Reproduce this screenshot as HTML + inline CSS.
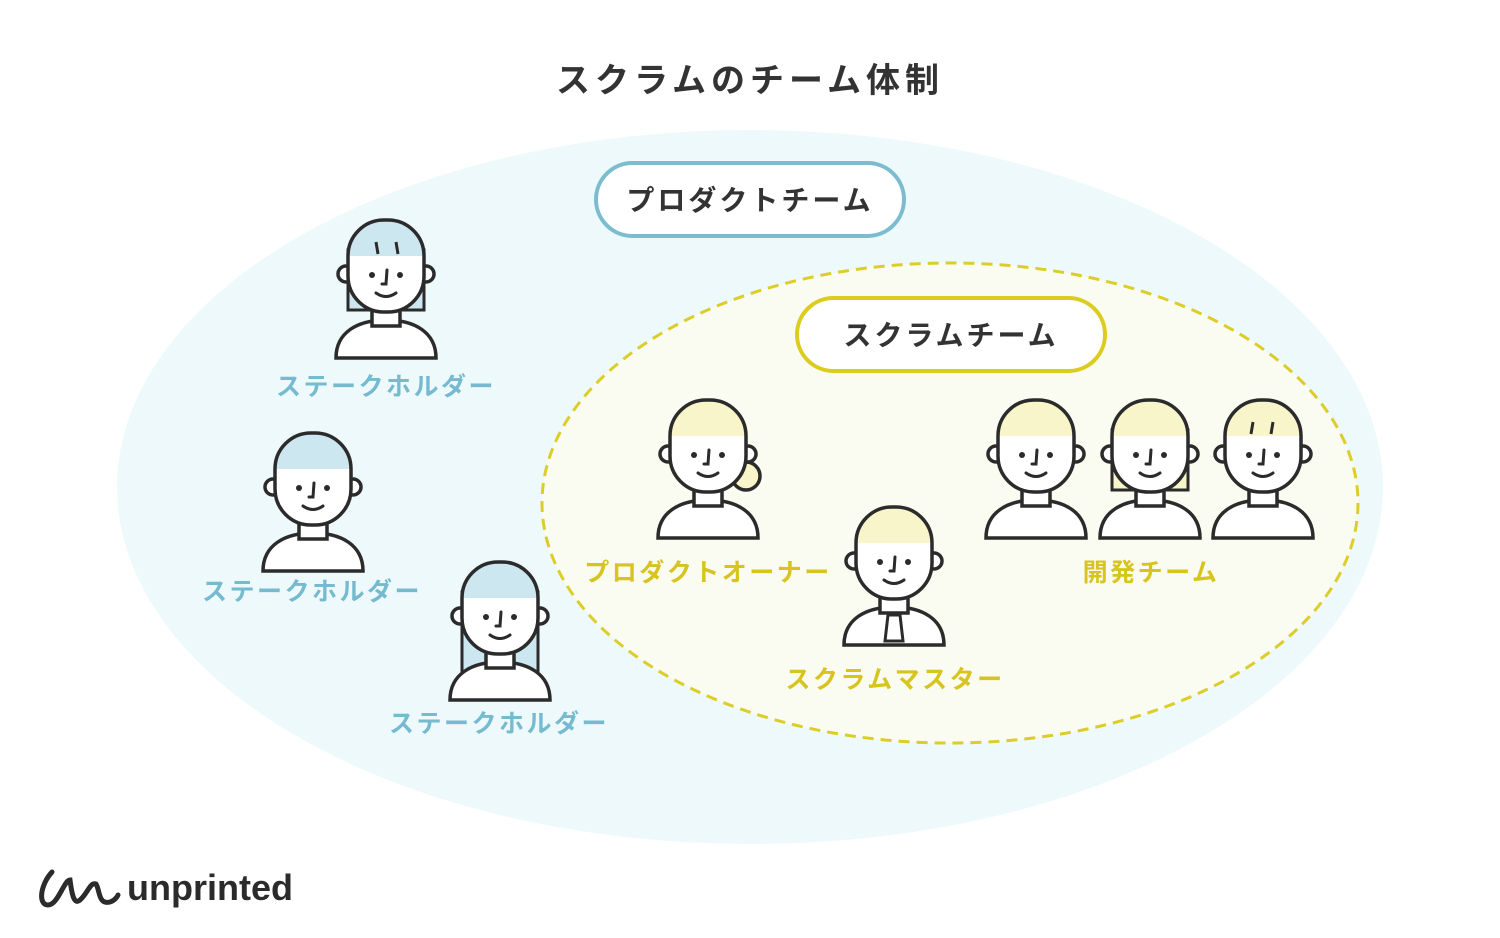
<!DOCTYPE html>
<html><head><meta charset="utf-8"><style>
html,body{margin:0;padding:0;background:#fff;}
svg{display:block}
text{font-family:"Liberation Sans","Noto Sans CJK JP",sans-serif;font-weight:bold}
</style></head><body>
<svg width="1500" height="938" viewBox="0 0 1500 938" xmlns="http://www.w3.org/2000/svg">
<defs>
<clipPath id="hc"><rect x="-38" y="0" width="76" height="92" rx="36"/></clipPath>
<g id="body">
  <path d="M-50 138 C-50 112 -28 100 0 100 C28 100 50 112 50 138 Z" fill="#fff" stroke="#2b2b2b" stroke-width="3.5"/>
  <rect x="-14" y="84" width="28" height="22" fill="#fff" stroke="#2b2b2b" stroke-width="3.5"/>
</g>
<g id="face">
  <circle cx="-40" cy="54" r="8" fill="#fff" stroke="#2b2b2b" stroke-width="3.5"/>
  <circle cx="40" cy="54" r="8" fill="#fff" stroke="#2b2b2b" stroke-width="3.5"/>
  <rect x="-38" y="0" width="76" height="92" rx="36" fill="#fff"/>
  <rect x="-40" y="0" width="80" height="36" fill="currentColor" clip-path="url(#hc)"/>
  <rect x="-38" y="0" width="76" height="92" rx="36" fill="none" stroke="#2b2b2b" stroke-width="3.5"/>
  <circle cx="-14" cy="55" r="3" fill="#2b2b2b"/>
  <circle cx="14" cy="55" r="3" fill="#2b2b2b"/>
  <path d="M1 50 L0 64 L-4 64" fill="none" stroke="#2b2b2b" stroke-width="3" stroke-linecap="round"/>
  <path d="M-10 73 Q0 80 10 73" fill="none" stroke="#2b2b2b" stroke-width="3" stroke-linecap="round"/>
</g>
</defs>

<text x="750" y="92" text-anchor="middle" font-size="34" fill="#333" letter-spacing="5">スクラムのチーム体制</text>

<ellipse cx="750" cy="487" rx="633" ry="357" fill="#eef9fc"/>
<ellipse cx="950" cy="503" rx="408" ry="240" fill="#fbfcf1" stroke="#dccd2a" stroke-width="3" stroke-dasharray="11 7"/>

<rect x="596" y="163" width="308" height="73" rx="36.5" fill="#fff" stroke="#7bbccf" stroke-width="4"/>
<text x="750" y="210" text-anchor="middle" font-size="28" fill="#333" letter-spacing="3">プロダクトチーム</text>
<rect x="797" y="298" width="308" height="73" rx="36.5" fill="#fff" stroke="#dccc1f" stroke-width="4"/>
<text x="951" y="345" text-anchor="middle" font-size="28" fill="#333" letter-spacing="3">スクラムチーム</text>

<!-- people -->
<g transform="translate(386,220)" color="#cde7f0"><rect x="-38" y="30" width="76" height="60" fill="#cde7f0" stroke="#2b2b2b" stroke-width="3"/><use href="#body"/><use href="#face"/><path d="M-10 22 L-8 34 M10 22 L12 34" stroke="#2b2b2b" stroke-width="3"/></g>
<g transform="translate(313,433)" color="#cde7f0"><use href="#body"/><use href="#face"/></g>
<g transform="translate(500,562)" color="#cde7f0"><rect x="-38" y="30" width="76" height="96" fill="#cde7f0" stroke="#2b2b2b" stroke-width="3"/><use href="#body"/><use href="#face"/></g>
<g transform="translate(708,400)" color="#f7f5c9"><use href="#body"/><circle cx="38" cy="76" r="14" fill="#f7f5c9" stroke="#2b2b2b" stroke-width="3.5"/><use href="#face"/></g>
<g transform="translate(894,507)" color="#f7f5c9"><use href="#body"/><path d="M-6 108 L6 108 L9 134 L-9 134 Z" fill="#fff" stroke="#2b2b2b" stroke-width="3"/><use href="#face"/></g>
<g transform="translate(1036,400)" color="#f7f5c9"><use href="#body"/><use href="#face"/></g>
<g transform="translate(1150,400)" color="#f7f5c9"><rect x="-38" y="30" width="76" height="60" fill="#f7f5c9" stroke="#2b2b2b" stroke-width="3"/><use href="#body"/><use href="#face"/></g>
<g transform="translate(1263,400)" color="#f7f5c9"><use href="#body"/><use href="#face"/><path d="M-10 22 L-12 34 M10 22 L8 34" stroke="#2b2b2b" stroke-width="3"/></g>

<g font-size="25" text-anchor="middle" fill="#76bad0" letter-spacing="2.5">
<text x="386" y="395">ステークホルダー</text>
<text x="312" y="600">ステークホルダー</text>
<text x="499" y="732">ステークホルダー</text>
</g>
<g font-size="25" text-anchor="middle" fill="#d7c41f" letter-spacing="2.5">
<text x="708" y="581">プロダクトオーナー</text>
<text x="895" y="688">スクラムマスター</text>
<text x="1151" y="581">開発チーム</text>
</g>

<path d="M52 872 C40 885 38 905 48 905 C58 905 64 880 70 880 C72 895 74 905 80 900 C88 893 90 882 96 884 C100 890 98 905 110 902 C116 900 118 895 118 895" fill="none" stroke="#2b2b2b" stroke-width="5" stroke-linecap="round"/>
<text x="127" y="900" font-size="36" fill="#2b2b2b" font-weight="bold">unprinted</text>
</svg>
</body></html>
